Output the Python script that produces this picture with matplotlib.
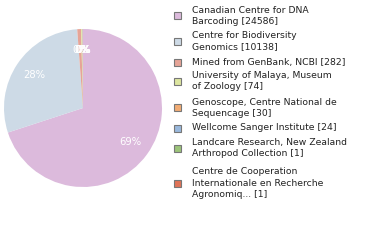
import matplotlib.pyplot as plt
from matplotlib.patches import Rectangle
import numpy as np

labels = ['Canadian Centre for DNA\nBarcoding [24586]',
          'Centre for Biodiversity\nGenomics [10138]',
          'Mined from GenBank, NCBI [282]',
          'University of Malaya, Museum\nof Zoology [74]',
          'Genoscope, Centre National de\nSequencage [30]',
          'Wellcome Sanger Institute [24]',
          'Landcare Research, New Zealand\nArthropod Collection [1]',
          'Centre de Cooperation\nInternationale en Recherche\nAgronomiq... [1]']
counts = [24586, 10138, 282, 74, 30, 24, 1, 1]
colors = ['#dcbadc', '#cddae6', '#e6a497', '#dde6a0', '#f2ac74',
          '#99b8dc', '#9cc47a', '#e07357']

# legend row centres (pixels from top)
text_y = [16, 41, 63, 81, 108, 128, 148, 183]

fig = plt.figure(figsize=(3.8, 2.4), dpi=100)
ax = fig.add_axes([4 / 380, 53 / 240, 158 / 380, 158 / 240])

wedges, texts, autotexts = ax.pie(
    counts, colors=colors, startangle=90, counterclock=False,
    autopct=lambda p: '%d%%' % int(p), pctdistance=0.74,
    textprops={'color': 'white', 'fontsize': 7.2})
ax.set_xlim(-1, 1)
ax.set_ylim(-1, 1)
ax.set_aspect('equal')

for lab, c, y in zip(labels, colors, text_y):
    yf = 1 - y / 240
    fig.patches.append(Rectangle((174 / 380, yf - 3.5 / 240), 7 / 380, 7 / 240,
                                 transform=fig.transFigure, facecolor=c,
                                 edgecolor='#777777', linewidth=0.8))
    fig.text(192 / 380, yf, lab, fontsize=6.7, va='center', ha='left',
             color='#222222', linespacing=1.3)

plt.savefig('out.png', dpi=100)
